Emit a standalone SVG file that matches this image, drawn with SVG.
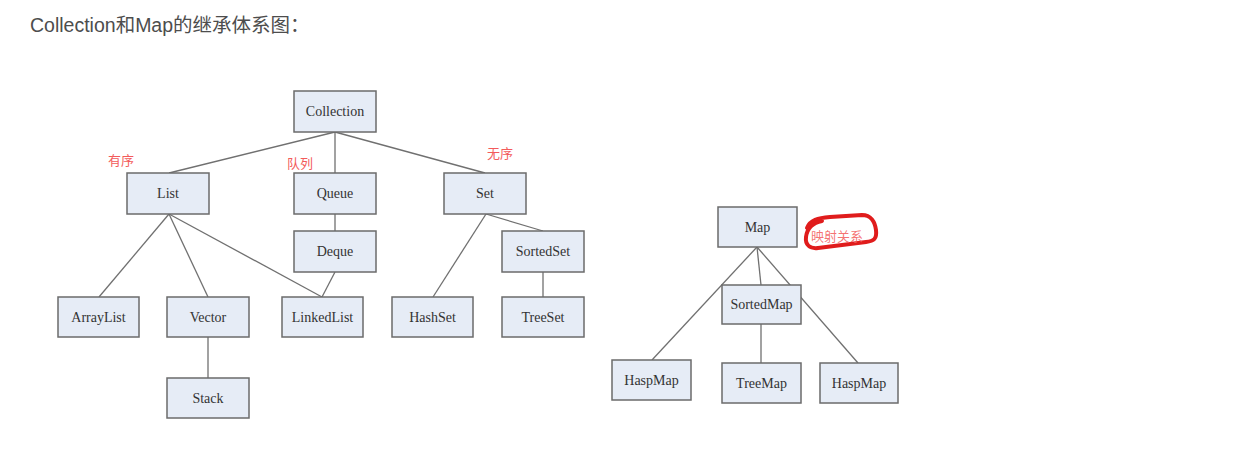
<svg xmlns="http://www.w3.org/2000/svg" width="1258" height="455" viewBox="0 0 1258 455">
<style>
.box{fill:#e6ecf6;stroke:#6b6b6b;stroke-width:1.5}
.lbl{font-family:"Liberation Serif","Times New Roman",serif;font-size:14px;fill:#333;text-anchor:middle;dominant-baseline:central}
.ln{stroke:#707070;stroke-width:1.3;fill:none}
.note{font-family:"Noto Sans CJK SC",sans-serif;font-size:13px;fill:#f35b5b}
</style>
<rect width="1258" height="455" fill="#fff"/>
<text x="30" y="32" font-family="'Liberation Sans','Noto Sans CJK SC',sans-serif" font-size="19.5" fill="#4d4d4d">Collection和Map的继承体系图：</text>
<g id="connectors">
<line class="ln" x1="335" y1="132" x2="169" y2="173"/>
<line class="ln" x1="335" y1="132" x2="335" y2="173"/>
<line class="ln" x1="335" y1="132" x2="485" y2="173"/>
<line class="ln" x1="169" y1="214" x2="99" y2="297"/>
<line class="ln" x1="169" y1="214" x2="208" y2="297"/>
<line class="ln" x1="169" y1="214" x2="322" y2="297"/>
<line class="ln" x1="335" y1="214" x2="335" y2="231"/>
<line class="ln" x1="335" y1="272" x2="322" y2="297"/>
<line class="ln" x1="208" y1="337" x2="208" y2="378"/>
<line class="ln" x1="486" y1="214" x2="433" y2="297"/>
<line class="ln" x1="486" y1="214" x2="543" y2="231"/>
<line class="ln" x1="543" y1="272" x2="543" y2="297"/>
<line class="ln" x1="757" y1="247" x2="652" y2="360"/>
<line class="ln" x1="757" y1="247" x2="761" y2="285"/>
<line class="ln" x1="757" y1="247" x2="858" y2="363"/>
<line class="ln" x1="761" y1="324" x2="761" y2="363"/>
</g>
<g id="collection"><rect class="box" x="294" y="91" width="82" height="41"/><text class="lbl" x="335" y="111.5">Collection</text></g>
<g id="list"><rect class="box" x="127" y="173" width="82" height="41"/><text class="lbl" x="168" y="193.5">List</text></g>
<g id="queue"><rect class="box" x="294" y="173" width="82" height="41"/><text class="lbl" x="335" y="193.5">Queue</text></g>
<g id="set"><rect class="box" x="444" y="173" width="82" height="41"/><text class="lbl" x="485" y="193.5">Set</text></g>
<g id="deque"><rect class="box" x="294" y="231" width="82" height="41"/><text class="lbl" x="335" y="251.5">Deque</text></g>
<g id="sortedset"><rect class="box" x="502" y="231" width="82" height="41"/><text class="lbl" x="543" y="251.5">SortedSet</text></g>
<g id="arraylist"><rect class="box" x="58" y="297" width="81" height="40"/><text class="lbl" x="98.5" y="317">ArrayList</text></g>
<g id="vector"><rect class="box" x="167" y="297" width="82" height="40"/><text class="lbl" x="208" y="317">Vector</text></g>
<g id="linkedlist"><rect class="box" x="282" y="297" width="81" height="40"/><text class="lbl" x="322.5" y="317">LinkedList</text></g>
<g id="hashset"><rect class="box" x="392" y="297" width="81" height="40"/><text class="lbl" x="432.5" y="317">HashSet</text></g>
<g id="treeset"><rect class="box" x="502" y="297" width="82" height="40"/><text class="lbl" x="543" y="317">TreeSet</text></g>
<g id="stack"><rect class="box" x="167" y="378" width="82" height="40"/><text class="lbl" x="208" y="398">Stack</text></g>
<g id="map"><rect class="box" x="718" y="207" width="79" height="40"/><text class="lbl" x="757.5" y="227">Map</text></g>
<g id="sortedmap"><rect class="box" x="722" y="285" width="79" height="39"/><text class="lbl" x="761.5" y="304.5">SortedMap</text></g>
<g id="haspmap1"><rect class="box" x="612" y="360" width="79" height="40"/><text class="lbl" x="651.5" y="380">HaspMap</text></g>
<g id="treemap"><rect class="box" x="722" y="363" width="79" height="40"/><text class="lbl" x="761.5" y="383">TreeMap</text></g>
<g id="haspmap2"><rect class="box" x="820" y="363" width="78" height="40"/><text class="lbl" x="859" y="383">HaspMap</text></g>
<g id="notes">
<text class="note" x="108" y="165">有序</text>
<text class="note" x="287" y="168">队列</text>
<text class="note" x="487" y="158">无序</text>
<path d="M 807,228 C 810,220 818,218 830,217 L 862,215 C 871,215 875,222 876,230 C 877,239 874,241 866,242 L 818,248 C 810,249 805,245 806,237 C 807,229 812,223 822,221" fill="none" stroke="#e01c1c" stroke-width="4" stroke-linecap="round" stroke-linejoin="round"/>
<text class="note" x="811" y="241" fill-opacity="0.85">映射关系</text>
</g>
</svg>
